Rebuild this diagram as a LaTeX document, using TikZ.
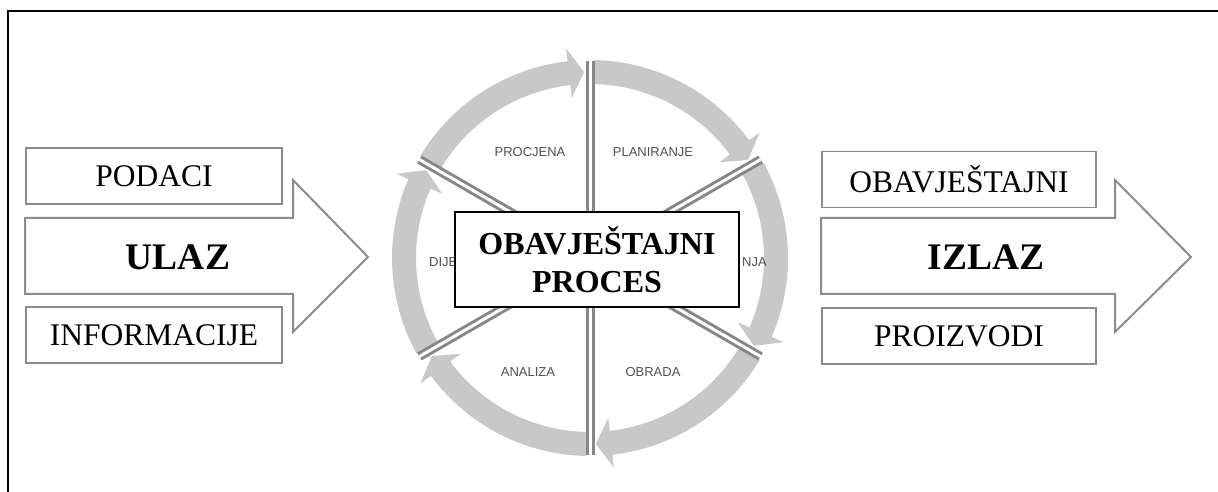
\documentclass[tikz,border=0pt]{standalone}
\usepackage{fontspec}
\setmainfont{Liberation Serif}
\setsansfont{Liberation Sans}
\usetikzlibrary{positioning}

\definecolor{ringgray}{RGB}{200,200,200}
\definecolor{boxgray}{RGB}{140,140,140}
\definecolor{spokegray}{RGB}{135,135,135}
\definecolor{labelgray}{RGB}{80,80,80}

\tikzset{
  word/.style={font=\fontsize{31.5}{31.5}\selectfont},
  bigword/.style={font=\bfseries\fontsize{37.5}{37.5}\selectfont},
  stage/.style={font=\sffamily\fontsize{13}{13}\selectfont, text=labelgray},
  sidebox/.style={draw=boxgray, line width=1.5pt, fill=white, minimum width=256pt, minimum height=56pt, inner sep=0pt, word},
  bigarrow/.style={draw=boxgray, line width=2pt, fill=white, line join=miter},
  spoke/.style={draw=spokegray, line width=3pt, double=white, double distance=3pt},
}

\begin{document}
\begin{tikzpicture}[x=1pt,y=1pt]
\useasboundingbox (0,0) rectangle (1218,492);

% frame
\draw[line width=2pt] (8,0) -- (8,481) -- (1218,481);

% input side
\draw[bigarrow] (25,198) -- (25,274) -- (293,274) -- (293,312) -- (368,235) -- (293,160) -- (293,198) -- cycle;
\node[bigword] (ulaz) at (178,235) {ULAZ};
\node[sidebox] (podaci) at (154,316) {PODACI};
\node[sidebox] (informacije) at (154,157) {INFORMACIJE};

% output side
\draw[bigarrow] (821,198) -- (821,274) -- (1115,274) -- (1115,312) -- (1191,235) -- (1115,160) -- (1115,198) -- cycle;
\node[bigword] (izlaz) at (986,235) {IZLAZ};
\node[sidebox, minimum width=274pt] (obavjestajni) at (959,312.5) {OBAVJEŠTAJNI};
\node[sidebox, minimum width=274pt] (proizvodi) at (959,156) {PROIZVODI};

% cycle
\begin{scope}[shift={(590,234)}]
\foreach \e in {90,30,-30,-90,-150,150}
  \fill[ringgray] (\e+58.8:198) arc[start angle=\e+58.8, end angle=\e+6.5, radius=198]
    -- (\e+6.5:211) -- (\e+1.8:186) -- (\e+6.5:161)
    -- (\e+6.5:174) arc[start angle=\e+6.5, end angle=\e+58.8, radius=174] -- cycle;
\foreach \s in {90,30,-30,-90,-150,150}
  \draw[spoke] (0,0) -- (\s:197);

\node[stage] (procjena) at (-60,106) {PROCJENA};
\node[stage] (planiranje) at (63,106) {PLANIRANJE};
\node[stage] (analiza) at (-62,-114) {ANALIZA};
\node[stage] (obrada) at (63,-114) {OBRADA};
\node[stage, anchor=west, inner sep=0pt] (dije) at (-161,-4) {DIJE};
\node[stage, anchor=east, inner sep=0pt] (nja) at (177,-4) {NJA};

\node[draw, fill=white, line width=1.5pt, minimum width=284pt, minimum height=95pt, align=center,
  font=\bfseries\fontsize{32}{38}\selectfont] (proces) at (7,-1.5) {OBAVJEŠTAJNI\\PROCES};
\end{scope}

\end{tikzpicture}
\end{document}
